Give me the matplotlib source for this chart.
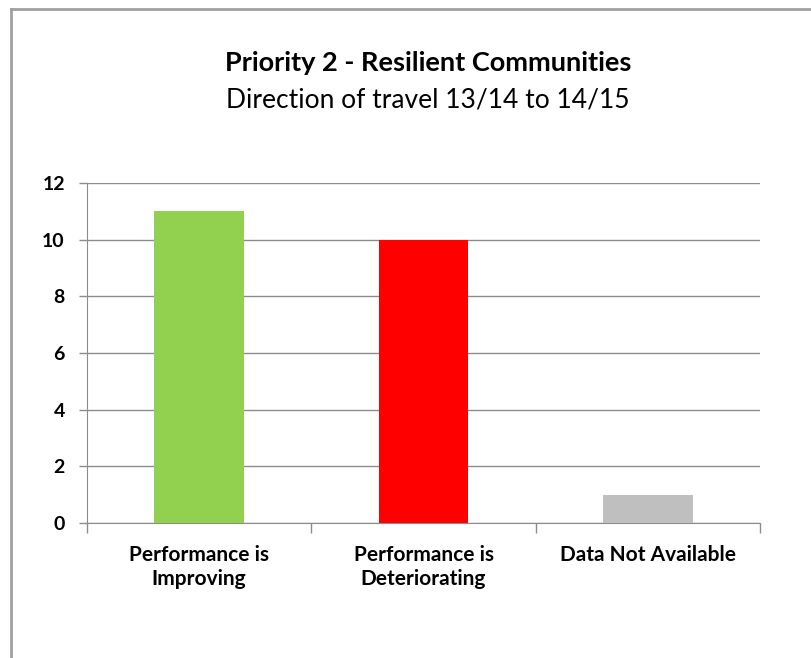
import matplotlib
matplotlib.use('Agg')
import matplotlib.pyplot as plt
from matplotlib.lines import Line2D

plt.rcParams['font.family'] = ['Lato', 'DejaVu Sans']

categories = ['Performance is\nImproving', 'Performance is\nDeteriorating', 'Data Not Available']
values = [11, 10, 1]
colors = ['#92D050', '#FF0000', '#BFBFBF']

fig = plt.figure(figsize=(8.11, 6.58), dpi=100)
ax = fig.add_axes([87/811, 1 - 523/658, (760-87)/811, (523-183)/658])

x = list(range(len(categories)))
ax.bar(x, values, width=0.4, color=colors, zorder=3)

ax.set_xlim(-0.5, 2.5)
ax.set_ylim(0, 12)
ax.set_yticks(range(0, 13, 2))
ax.set_xticks(x)
ax.set_xticklabels(categories, fontsize=15, fontweight='bold', linespacing=1.25)
ax.tick_params(axis='y', labelsize=14, length=6, color='#8C8C8C', width=1, pad=10)
ax.tick_params(axis='x', length=0, pad=16)
for lbl in ax.get_yticklabels():
    lbl.set_fontweight('bold')

# category separator ticks
ax.set_xticks([-0.5, 0.5, 1.5, 2.5], minor=True)
ax.tick_params(axis='x', which='minor', length=7, color='#8C8C8C', width=1)

ax.yaxis.grid(True, color='#8C8C8C', linewidth=1, zorder=0)
for s in ['top', 'right']:
    ax.spines[s].set_visible(False)
ax.spines['left'].set_color('#8C8C8C')
ax.spines['bottom'].set_color('#8C8C8C')

fig.text(428/811, 1 - 63/658, 'Priority 2 - Resilient Communities', ha='center', va='center',
         fontsize=19.5, fontweight='bold')
fig.text(428/811, 1 - 100/658, 'Direction of travel 13/14 to 14/15', ha='center', va='center',
         fontsize=19)

# outer frame
fig.add_artist(Line2D([10.5/811, 10.5/811], [0, 1 - 9/658], transform=fig.transFigure,
                      color='#A0A0A0', linewidth=2))
fig.add_artist(Line2D([10.5/811, 1], [1 - 9/658, 1 - 9/658], transform=fig.transFigure,
                      color='#A0A0A0', linewidth=2))

fig.savefig('out.png', dpi=100)
